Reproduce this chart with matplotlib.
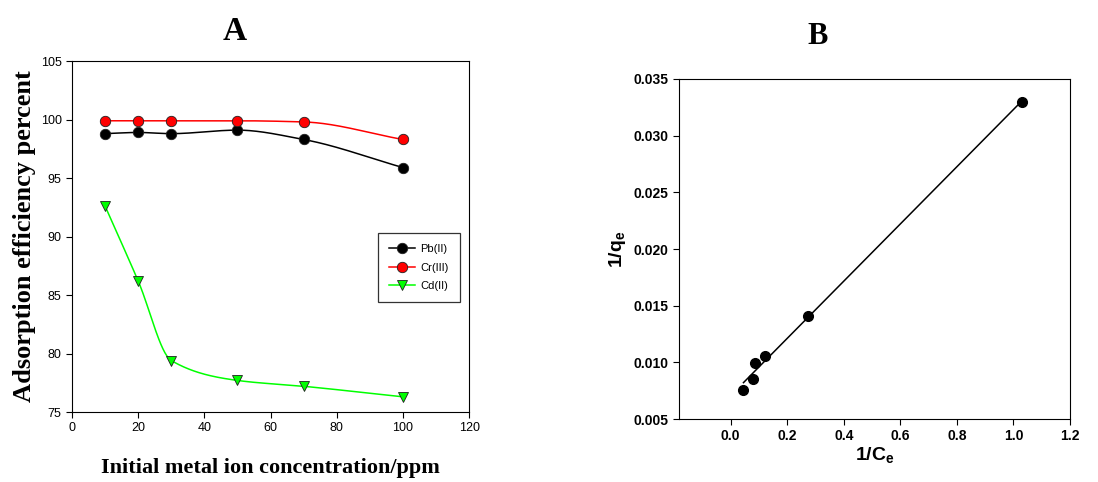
import numpy as np
import matplotlib
matplotlib.use("Agg")
import matplotlib.pyplot as plt

plt.rcParams['mathtext.fontset'] = 'custom'
plt.rcParams['mathtext.rm'] = 'Liberation Sans:bold'
plt.rcParams['mathtext.it'] = 'Liberation Sans:bold'
plt.rcParams['mathtext.bf'] = 'Liberation Sans:bold'

# ---- Panel A data ----
conc = [10, 20, 30, 50, 70, 100]
pb = [98.8, 98.9, 98.8, 99.1, 98.3, 95.9]
cr = [99.9, 99.9, 99.9, 99.9, 99.8, 98.3]
cd = [92.6, 86.2, 79.4, 77.7, 77.2, 76.3]
series_names = ["Pb(II)", "Cr(III)", "Cd(II)"]

# ---- Panel B data ----
inv_ce = [0.045, 0.08, 0.085, 0.12, 0.275, 1.03]
inv_qe = [0.0076, 0.0085, 0.0099, 0.0106, 0.0141, 0.0330]


def pchip(x, y, n=300):
    """Monotone piecewise cubic Hermite curve through the data points."""
    x = np.asarray(x, float)
    y = np.asarray(y, float)
    h = np.diff(x)
    delta = np.diff(y) / h
    k = len(x)
    d = np.zeros(k)
    for i in range(1, k - 1):
        if delta[i - 1] * delta[i] <= 0:
            d[i] = 0.0
        else:
            w1 = 2 * h[i] + h[i - 1]
            w2 = h[i] + 2 * h[i - 1]
            d[i] = (w1 + w2) / (w1 / delta[i - 1] + w2 / delta[i])
    d[0] = delta[0]
    d[-1] = delta[-1]
    xs = np.linspace(x[0], x[-1], n)
    ys = np.empty_like(xs)
    for j, xv in enumerate(xs):
        i = min(np.searchsorted(x, xv, side='right') - 1, k - 2)
        t = (xv - x[i]) / h[i]
        h00 = 2 * t**3 - 3 * t**2 + 1
        h10 = t**3 - 2 * t**2 + t
        h01 = -2 * t**3 + 3 * t**2
        h11 = t**3 - t**2
        ys[j] = h00 * y[i] + h10 * h[i] * d[i] + h01 * y[i + 1] + h11 * h[i] * d[i + 1]
    return xs, ys


fig = plt.figure(figsize=(10.98, 4.82), dpi=100)

# ---------------- Panel A ----------------
axA = fig.add_axes([0.0656, 0.1452, 0.3616, 0.728])
styles = [
    (pb, 'black', 'o', 'black'),
    (cr, 'red', 'o', 'red'),
    (cd, '#00ff00', 'v', '#00ff00'),
]
handles = []
for (vals, lc, mk, fc), name in zip(styles, series_names):
    xs, ys = pchip(conc, vals)
    axA.plot(xs, ys, color=lc, lw=1.1, zorder=2)
    axA.plot(conc, vals, linestyle='none', marker=mk, markersize=7.5,
             markerfacecolor=fc, markeredgecolor='#202020', markeredgewidth=0.6, zorder=3)
    h, = axA.plot([], [], color=lc, lw=1.1, marker=mk, markersize=7.5,
                  markerfacecolor=fc, markeredgecolor='#202020', markeredgewidth=0.6)
    handles.append(h)

axA.set_xlim(0, 120)
axA.set_ylim(75, 105)
axA.set_xticks(np.arange(0, 121, 20))
axA.set_yticks(np.arange(75, 106, 5))
axA.tick_params(direction='out', length=4, width=0.8, labelsize=9,
                top=False, right=False)
for lab in axA.get_xticklabels() + axA.get_yticklabels():
    lab.set_fontfamily('Liberation Sans')
for s in axA.spines.values():
    s.set_linewidth(0.8)
axA.set_ylabel("Adsorption efficiency percent", fontfamily='Liberation Serif',
               fontweight='bold', fontsize=19, labelpad=3)
axA.set_xlabel("Initial metal ion concentration/ppm", fontfamily='Liberation Serif',
               fontweight='bold', fontsize=16, labelpad=17)
fig.text(0.214, 0.935, "A", fontfamily='Liberation Serif', fontweight='bold',
         fontsize=24, ha='center', va='center')
leg = axA.legend(handles, series_names, loc='upper left',
                 bbox_to_anchor=(0.771, 0.51), frameon=True, fancybox=False,
                 edgecolor='black', prop={'family': 'Liberation Sans', 'size': 8},
                 handlelength=2.3, borderpad=1.0, labelspacing=0.75, handletextpad=0.5,
                 borderaxespad=0)
leg.get_frame().set_linewidth(0.9)

# ---------------- Panel B ----------------
axB = fig.add_axes([0.6184, 0.1307, 0.3561, 0.7054])
coef = np.polyfit(inv_ce, inv_qe, 1)
xl = np.array([min(inv_ce), max(inv_ce)])
axB.plot(xl, np.polyval(coef, xl), color='black', lw=1.1, zorder=2)
axB.plot(inv_ce, inv_qe, linestyle='none', marker='o', markersize=7,
         color='black', zorder=3)
axB.set_xlim(-0.183, 1.2)
axB.set_ylim(0.005, 0.035)
xt = np.arange(0, 1.21, 0.2)
yt = np.arange(0.005, 0.0351, 0.005)
axB.set_xticks(xt)
axB.set_yticks(yt)
axB.set_xticklabels([f"{v:.1f}" for v in xt])
axB.set_yticklabels([f"{v:.3f}" for v in yt])
axB.tick_params(direction='out', length=4, width=0.8, labelsize=10,
                top=False, right=False)
for lab in axB.get_xticklabels() + axB.get_yticklabels():
    lab.set_fontfamily('Liberation Sans')
    lab.set_fontweight('bold')
for s in axB.spines.values():
    s.set_linewidth(0.8)
axB.set_xlabel(r"1/C$_\mathrm{e}$", fontfamily='Liberation Sans', fontweight='bold',
               fontsize=14, labelpad=1)
axB.set_ylabel(r"1/q$_\mathrm{e}$", fontfamily='Liberation Sans', fontweight='bold',
               fontsize=14, labelpad=4)
fig.text(0.745, 0.925, "B", fontfamily='Liberation Serif', fontweight='bold',
         fontsize=22, ha='center', va='center')

fig.savefig("out.png", dpi=100)
